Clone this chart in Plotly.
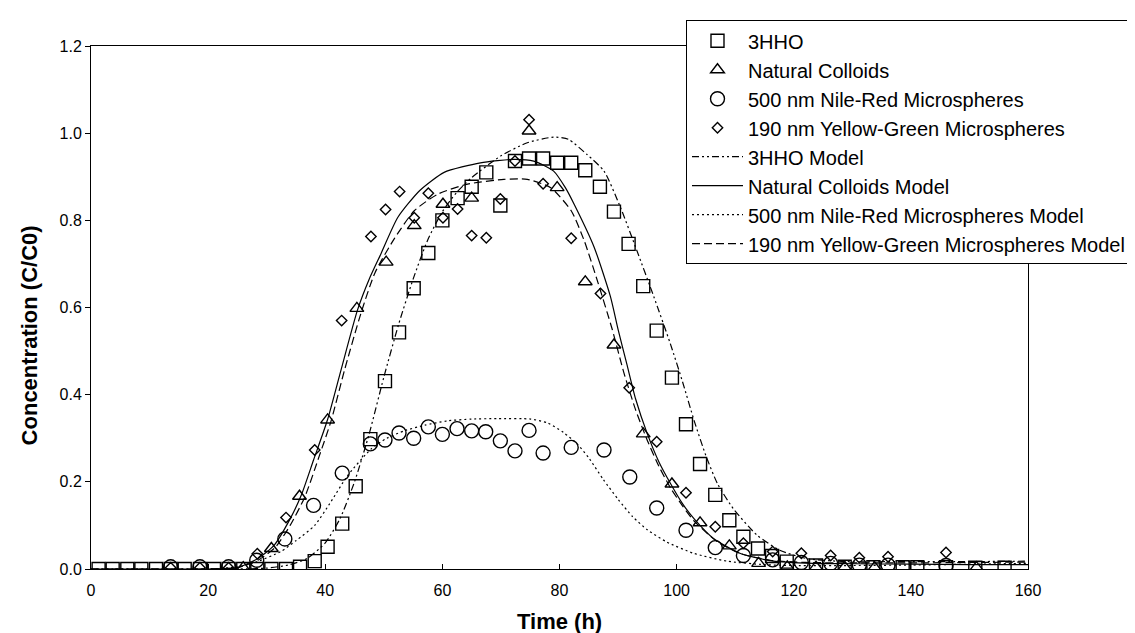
import plotly.graph_objects as go

# ---------------- data ----------------
hho_x = [1.3, 3.7, 6.2, 8.6, 11.1, 13.6, 16.0, 18.6, 21.0, 23.5, 26.0, 28.4, 30.8, 33.3,
         35.7, 38.2, 40.4, 42.9, 45.2, 47.7, 50.2, 52.6, 55.1, 57.6, 60.0, 62.6, 65.0,
         67.5, 69.9, 72.4, 74.8, 77.2, 79.6, 82.0, 84.4, 86.9, 89.3, 91.8, 94.3, 96.6,
         99.2, 101.6, 104.0, 106.6, 109.0, 111.4, 113.9, 116.3, 118.8, 123.8, 128.7,
         133.6, 138.6, 141.1, 146.0, 151.0, 156.0]
hho_y = [0.0, 0.0, 0.0, 0.0, 0.0, 0.0, 0.0, 0.0, 0.0, 0.0, 0.0, 0.0, 0.0, 0.0,
         0.005, 0.018, 0.051, 0.104, 0.19, 0.298, 0.431, 0.543, 0.644, 0.725, 0.80, 0.851, 0.877,
         0.91, 0.834, 0.936, 0.942, 0.942, 0.932, 0.932, 0.915, 0.877, 0.82, 0.746, 0.649, 0.547,
         0.439, 0.332, 0.241, 0.17, 0.112, 0.074, 0.047, 0.03, 0.017, 0.008, 0.005,
         0.004, 0.004, 0.004, 0.004, 0.003, 0.003]

nc_x = [26.0, 30.8, 35.6, 40.4, 45.4, 50.4, 55.2, 60.1, 65.0, 74.8, 79.6, 84.4, 89.3,
        94.3, 99.2, 104.0, 109.0, 114.0, 118.9, 123.8, 128.7, 133.8, 151.2]
nc_y = [0.003, 0.047, 0.167, 0.342, 0.598, 0.704, 0.788, 0.837, 0.851, 1.005, 0.875, 0.659, 0.514,
        0.31, 0.195, 0.106, 0.053, 0.013, 0.005, 0.004, 0.004, 0.003, 0.003]

nr_x = [13.6, 18.6, 23.5, 28.3, 33.1, 38.0, 42.9, 47.7, 50.2, 52.6, 55.1, 57.6, 60.0, 62.5,
        65.0, 67.4, 69.9, 72.4, 74.8, 77.2, 82.0, 87.6, 92.0, 96.6, 101.6, 106.6, 111.4,
        116.4, 121.3, 126.3, 131.2, 136.1, 146.0]
nr_y = [0.005, 0.005, 0.005, 0.02, 0.069, 0.146, 0.22, 0.287, 0.296, 0.312, 0.30, 0.326, 0.309, 0.322,
        0.317, 0.315, 0.294, 0.271, 0.318, 0.266, 0.279, 0.273, 0.211, 0.14, 0.089, 0.049, 0.031,
        0.021, 0.015, 0.013, 0.009, 0.009, 0.008]

yg_x = [13.6, 18.6, 23.5, 28.4, 33.3, 38.2, 42.8, 47.8, 50.3, 52.7, 55.2, 57.6, 60.1, 62.6,
        65.0, 67.5, 69.9, 72.4, 74.8, 77.2, 82.0, 87.0, 91.9, 96.6, 101.6, 106.6, 111.4,
        116.4, 121.3, 126.3, 131.2, 136.1, 146.0]
yg_y = [0.003, 0.003, 0.003, 0.035, 0.118, 0.273, 0.57, 0.763, 0.825, 0.866, 0.806, 0.862, 0.806, 0.826,
        0.765, 0.76, 0.849, 0.936, 1.031, 0.884, 0.759, 0.632, 0.416, 0.292, 0.175, 0.097, 0.059,
        0.04, 0.036, 0.031, 0.026, 0.028, 0.038]

hho_model_x = [0, 25, 30, 34, 37, 40, 42.5, 45, 47.5, 50, 52.5, 55, 57.5, 60, 62.5, 65, 70,
               74.5, 79, 81.5, 84.7, 87.6, 90.4, 93.2, 96.1, 98.9, 101, 103, 105, 107, 109.7,
               113.7, 117.6, 122.2, 129, 140, 150, 160]
hho_model_y = [0.0, 0.0, 0.002, 0.01, 0.025, 0.06, 0.115, 0.2, 0.31, 0.44, 0.56, 0.665, 0.755, 0.82,
               0.865, 0.898, 0.948, 0.978, 0.991, 0.986, 0.951, 0.913, 0.83, 0.731, 0.625, 0.518,
               0.43, 0.34, 0.26, 0.195, 0.138, 0.078, 0.043, 0.024, 0.017, 0.017, 0.017, 0.018]

nc_model_x = [0, 20, 25, 28.5, 31.3, 34, 35.9, 38, 40.4, 42.7, 45.5, 47.5, 49.5, 52.4, 56.1,
              60.3, 66.5, 72.2, 75.6, 79.0, 81, 82.5, 85.9, 88.7, 90, 91.5, 93, 95, 97, 99,
              101, 103, 106.3, 110.8, 116.5, 123.3, 130, 140, 150, 160]
nc_model_y = [0.0, 0.0, 0.003, 0.024, 0.055, 0.115, 0.169, 0.25, 0.343, 0.457, 0.594, 0.665, 0.723,
              0.807, 0.868, 0.91, 0.932, 0.94, 0.936, 0.913, 0.875, 0.837, 0.739, 0.625, 0.55, 0.47,
              0.39, 0.31, 0.245, 0.195, 0.15, 0.115, 0.07, 0.036, 0.018, 0.013, 0.012, 0.011, 0.01, 0.01]

nr_model_x = [0, 20, 25, 28, 32.4, 35, 38.2, 41, 43.8, 47.8, 50.5, 53.5, 57, 60.9, 65, 69.4,
              75.1, 78, 80.7, 83, 85, 87.5, 90, 92.5, 95, 98.3, 102.9, 108.6, 115, 120, 130,
              140, 150, 160]
nr_model_y = [0.0, 0.0, 0.005, 0.015, 0.04, 0.065, 0.1, 0.155, 0.214, 0.275, 0.3, 0.317, 0.33, 0.34,
              0.344, 0.345, 0.344, 0.335, 0.313, 0.287, 0.255, 0.205, 0.16, 0.12, 0.09, 0.062,
              0.036, 0.018, 0.01, 0.008, 0.008, 0.009, 0.011, 0.013]

yg_model_x = [0, 20, 25, 28.5, 31.5, 34, 36.5, 39, 41, 43.3, 46.1, 48.5, 51.8, 55.2, 59.2,
              64.3, 70.5, 74.5, 78.5, 82, 84.2, 86.5, 89, 91, 93, 95, 97, 99, 101, 103, 107,
              111, 116, 122, 130, 140, 150, 160]
yg_model_y = [0.0, 0.0, 0.003, 0.02, 0.05, 0.1, 0.165, 0.26, 0.34, 0.457, 0.587, 0.68, 0.758, 0.822,
              0.86, 0.883, 0.894, 0.894, 0.875, 0.822, 0.754, 0.66, 0.55, 0.45, 0.365, 0.295, 0.235,
              0.185, 0.145, 0.11, 0.062, 0.035, 0.02, 0.015, 0.014, 0.014, 0.015, 0.016]

x_ticks = [0, 20, 40, 60, 80, 100, 120, 140, 160]
y_ticks = [0.0, 0.2, 0.4, 0.6, 0.8, 1.0, 1.2]

names = ["3HHO", "Natural Colloids", "500 nm Nile-Red Microspheres",
         "190 nm Yellow-Green Microspheres", "3HHO Model", "Natural Colloids Model",
         "500 nm Nile-Red Microspheres Model", "190 nm Yellow-Green Microspheres Model"]

# ---------------- figure ----------------
FONT = "Arial, Liberation Sans, sans-serif"
fig = go.Figure()

marker_series = [
    (hho_x, hho_y, "square", 13),
    (nc_x, nc_y, "triangle-up", 12),
    (nr_x, nr_y, "circle", 14),
    (yg_x, yg_y, "diamond", 8),
]
for (xs, ys, sym, size), nm in zip(marker_series, names[:4]):
    fig.add_trace(go.Scatter(
        x=xs, y=ys, mode="markers", name=nm,
        marker=dict(symbol=sym, size=size, color="rgba(255,255,255,0)",
                    line=dict(color="black", width=1.4)),
    ))

line_series = [
    (hho_model_x, hho_model_y, "7px,3px,2px,3px,2px,3px"),
    (nc_model_x, nc_model_y, "solid"),
    (nr_model_x, nr_model_y, "2px,3px"),
    (yg_model_x, yg_model_y, "8px,4px"),
]
for (xs, ys, dash), nm in zip(line_series, names[4:]):
    fig.add_trace(go.Scatter(
        x=xs, y=ys, mode="lines", name=nm,
        line=dict(color="black", width=1.2, dash=dash, shape="spline", smoothing=0.6),
    ))

fig.update_layout(
    width=1135, height=633,
    margin=dict(l=83, r=112, t=34, b=72),
    paper_bgcolor="white", plot_bgcolor="white",
    font=dict(family=FONT, size=16, color="black"),
    showlegend=True,
    legend=dict(x=0.635, y=1.0493, xanchor="left", yanchor="top",
                bgcolor="white", bordercolor="black", borderwidth=1,
                font=dict(family=FONT, size=20, color="black"),
                itemwidth=51, tracegroupgap=0),
    xaxis=dict(range=[0, 160], tickvals=x_ticks, ticks="inside", ticklen=5,
               tickcolor="black", showline=True, linecolor="black", linewidth=1,
               mirror=True, showgrid=False, zeroline=False, ticklabelstandoff=7,
               tickfont=dict(family=FONT, size=16)),
    yaxis=dict(range=[0, 1.2], tickvals=y_ticks, tickformat=".1f", ticks="outside",
               ticklen=5, tickcolor="black", showline=True, linecolor="black",
               linewidth=1, mirror=True, showgrid=False, zeroline=False,
               tickfont=dict(family=FONT, size=16)),
    annotations=[
        dict(text="<b>Time (h)</b>", x=0.5, y=-0.1006, xref="paper", yref="paper",
             xanchor="center", yanchor="middle", showarrow=False,
             font=dict(family=FONT, size=22)),
        dict(text="<b>Concentration (C/C0)</b>", x=-0.066, y=0.447, xref="paper",
             yref="paper", xanchor="center", yanchor="middle", textangle=-90,
             showarrow=False, font=dict(family=FONT, size=22)),
    ],
)

fig.write_html("out.html")
